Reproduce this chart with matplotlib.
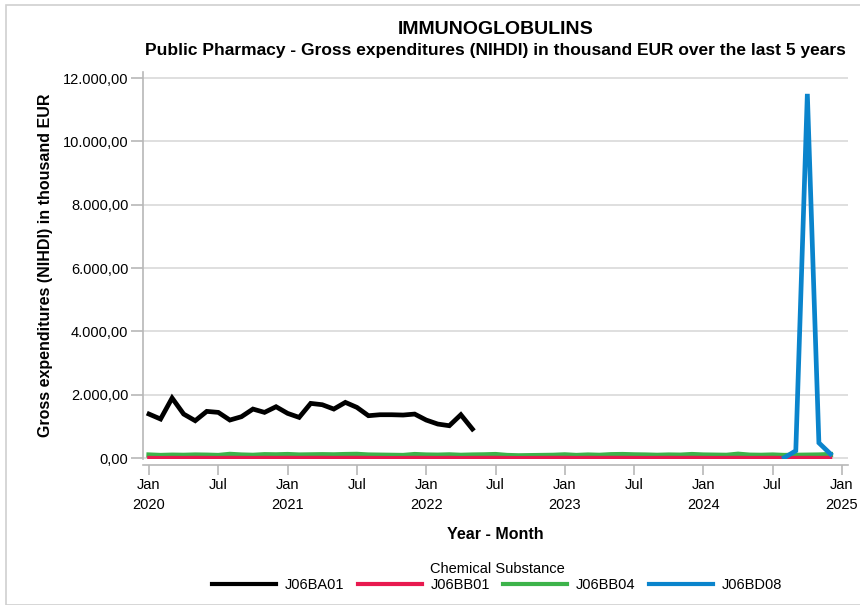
import numpy as np
import pandas as pd
import matplotlib
matplotlib.use("Agg")
import matplotlib.pyplot as plt
from matplotlib.ticker import FuncFormatter, FixedLocator
from matplotlib.patches import Rectangle

plt.rcParams['font.family'] = ['Liberation Sans', 'DejaVu Sans']

# ---------------- data ----------------
months = pd.date_range('2020-01-01', '2024-12-01', freq='MS')

J06BA01 = [1389, 1232, 1895, 1389, 1179, 1474, 1442, 1200, 1305, 1547, 1442, 1621,
           1411, 1284, 1726, 1684, 1547, 1758, 1600, 1337, 1368, 1368, 1358, 1389,
           1200, 1074, 1021, 1368, 916]

J06BB01 = [12, 8, 12, 10, 14, 12, 10, 15, 12, 10, 14, 12,
           15, 12, 14, 15, 12, 14, 15, 12, 10, 8, 10, 14,
           12, 10, 14, 8, 12, 14, 15, 10, 8, 10, 12, 14,
           15, 10, 14, 12, 15, 14, 12, 10, 12, 14, 12, 15,
           12, 10, 12, 15, 10, 12, 14, 10, 12, 14, 12, 15]

J06BB04 = [95, 80, 90, 85, 95, 90, 80, 115, 95, 85, 105, 100,
           110, 95, 100, 105, 100, 110, 115, 95, 90, 85, 80, 110,
           95, 90, 100, 85, 95, 100, 110, 80, 70, 75, 80, 85,
           100, 80, 95, 85, 105, 110, 100, 95, 85, 95, 90, 110,
           95, 90, 85, 120, 90, 85, 95, 80, 85, 90, 95, 110]

J06BD08 = [np.nan] * 55 + [10, 230, 11500, 480, 130]

tick_labels = ['Jan\n2020', 'Jul', 'Jan\n2021', 'Jul', 'Jan\n2022', 'Jul',
               'Jan\n2023', 'Jul', 'Jan\n2024', 'Jul', 'Jan\n2025']
y_ticks = [0, 2000, 4000, 6000, 8000, 10000, 12000]

series_names = ['J06BA01', 'J06BB01', 'J06BB04', 'J06BD08']
series_values = [J06BA01, J06BB01, J06BB04, J06BD08]
colors = ['#000000', '#e8194f', '#3cb34a', '#0a84cc']
widths = [3.4, 2.6, 3.8, 3.4]

# ---------------- figure ----------------
fig = plt.figure(figsize=(8.6, 6.05), dpi=100)
fig.patches.append(Rectangle((6 / 860, 0), 1, 1 - 5 / 605, transform=fig.transFigure,
                             fill=False, edgecolor='#d0d0d0', linewidth=1.2, zorder=0))

ax = fig.add_axes([143 / 860, (605 - 459) / 605, (848 - 143) / 860, (459 - 71.7) / 605])

x = np.arange(len(months))
order = [2, 1, 0, 3]
for k, i in enumerate(order):
    vals = np.asarray(series_values[i], dtype=float)
    ax.plot(x[:len(vals)], vals, color=colors[i], linewidth=widths[i],
            solid_joinstyle='miter', label=series_names[i], zorder=3 + k)

ax.set_xlim(-0.52, 60.52)
ax.set_ylim(-30, 12200)

ax.xaxis.set_major_locator(FixedLocator(np.arange(0, 61, 6)))
ax.set_xticklabels(tick_labels)
ax.yaxis.set_major_locator(FixedLocator(y_ticks))


def eu(v, pos):
    s = f"{v:,.2f}"
    return s.replace(',', 'X').replace('.', ',').replace('X', '.')


ax.yaxis.set_major_formatter(FuncFormatter(eu))

ax.grid(axis='y', color='#d9d9d9', linewidth=1.2, zorder=0)
ax.set_axisbelow(True)
for s in ['top', 'right']:
    ax.spines[s].set_visible(False)
ax.spines['left'].set_color('#b8b8b8')
ax.spines['bottom'].set_color('#b8b8b8')
ax.spines['left'].set_linewidth(1.2)
ax.spines['bottom'].set_linewidth(1.2)
ax.spines['bottom'].set_position(('outward', 4))
ax.tick_params(axis='both', colors='#b8b8b8', labelcolor='#000000', labelsize=10.5,
               width=1.2)
ax.tick_params(axis='x', length=7, pad=3)
ax.tick_params(axis='y', length=9, pad=1.5)
for lab in ax.get_xticklabels():
    lab.set_linespacing(1.5)

ax.set_ylabel('Gross expenditures (NIHDI) in thousand EUR', fontsize=11.5,
              fontweight='bold', labelpad=7)
ax.set_xlabel('Year - Month', fontsize=11.5, fontweight='bold', labelpad=11)

cx = (143 + 848) / 2 / 860
fig.text(cx, 1 - 30 / 605, 'IMMUNOGLOBULINS', ha='center', va='center',
         fontsize=14, fontweight='bold')
fig.text(cx, 1 - 51 / 605,
         'Public Pharmacy - Gross expenditures (NIHDI) in thousand EUR over the last 5 years',
         ha='center', va='center', fontsize=12.5, fontweight='bold')

handles, labels = ax.get_legend_handles_labels()
hmap = dict(zip(labels, handles))
leg = fig.legend([hmap[n] for n in series_names], series_names,
                 loc='center', bbox_to_anchor=(497 / 860, 1 - 577 / 605),
                 ncol=4, frameon=False, title='Chemical Substance',
                 fontsize=10.5, title_fontsize=10.5, handlelength=4.4,
                 handletextpad=0.6, columnspacing=0.9, borderaxespad=0,
                 labelspacing=0.2)
for h in leg.legend_handles:
    h.set_linewidth(3.0)

fig.savefig('out.png', dpi=100)
